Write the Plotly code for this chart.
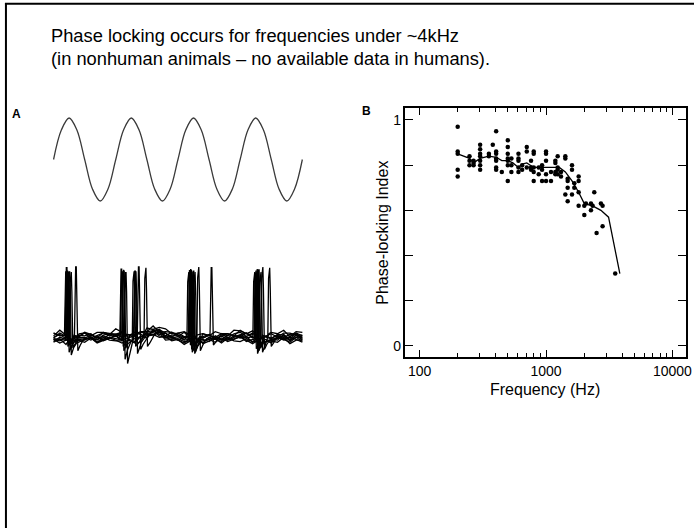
import plotly.graph_objects as go

W, H = 700, 528


def px(x):
    return x / W


def py(y):
    return 1 - y / H


FONT = "Liberation Sans, Arial, Helvetica, sans-serif"

# ---------------- text ----------------
title_line_1 = "Phase locking occurs for frequencies under ~4kHz"
title_line_2 = "(in nonhuman animals \u2013 no available data in humans)."
panel_labels = ["A", "B"]
x_axis_title = "Frequency (Hz)"
y_axis_title = "Phase-locking Index"

# ---------------- panel B data ----------------
freq_hz = [
    200, 200, 200, 200, 200,
    248, 248, 248,
    267, 267, 267,
    301, 301, 301, 301, 301, 301, 301,
    353, 353,
    379,
    403, 403, 403, 403, 403, 403, 403,
    447,
    498, 498, 498, 498, 498, 498, 498,
    532, 532, 532,
    605, 605, 605, 605, 605,
    647, 647,
    704, 704, 704,
    761, 761, 761,
    799, 799, 799, 799, 799,
    875, 875,
    930, 930, 930,
    1000, 1000, 1000, 1000, 1000,
    1095, 1095,
    1185, 1185, 1185, 1185,
    1236, 1236, 1236, 1236,
    1313, 1313,
    1421, 1421, 1421,
    1483, 1483, 1483, 1483,
    1605, 1605, 1605,
    1674, 1674,
    1811, 1811, 1811, 1811,
    2008, 2008,
    2069,
    2267, 2267,
    2336,
    2408,
    2512,
    2718,
    2802, 2802,
    3527,
]
pli = [
    0.97, 0.86, 0.85, 0.78, 0.75,
    0.84, 0.82, 0.80,
    0.82, 0.81, 0.80,
    0.89, 0.87, 0.85, 0.84, 0.82, 0.80, 0.78,
    0.85, 0.84,
    0.89,
    0.95, 0.86, 0.85, 0.83, 0.82, 0.79, 0.78,
    0.77,
    0.91, 0.88, 0.85, 0.83, 0.82, 0.80, 0.73,
    0.83, 0.80, 0.77,
    0.85, 0.83, 0.82, 0.79, 0.77,
    0.80, 0.78,
    0.88, 0.86, 0.79,
    0.82, 0.79, 0.78,
    0.86, 0.85, 0.79, 0.77, 0.73,
    0.79, 0.76,
    0.80, 0.78, 0.73,
    0.86, 0.85, 0.82, 0.76, 0.73,
    0.77, 0.73,
    0.82, 0.81, 0.77, 0.76,
    0.84, 0.79, 0.78, 0.76,
    0.77, 0.75,
    0.84, 0.83, 0.67,
    0.74, 0.73, 0.70, 0.64,
    0.80, 0.78, 0.67,
    0.72, 0.70,
    0.75, 0.73, 0.68, 0.62,
    0.62, 0.58,
    0.63,
    0.63, 0.60,
    0.62,
    0.68,
    0.50,
    0.63,
    0.62, 0.53,
    0.32,
]
mean_freq_hz = [200, 248, 267, 301, 353, 403, 447, 498, 546, 605, 647, 704,
                799, 930, 1095, 1274, 1421, 1605, 1811, 2008, 2336, 2718,
                3124, 3838]
mean_pli = [0.85, 0.83, 0.81, 0.83, 0.84, 0.835, 0.82, 0.82, 0.81, 0.79,
            0.805, 0.81, 0.79, 0.79, 0.79, 0.79, 0.77, 0.73, 0.68, 0.63,
            0.62, 0.60, 0.57, 0.32]

x_tick_vals = [100, 1000, 10000]
x_tick_text = ["100", "1000", "10000"]
x_minor_vals = [200, 300, 400, 500, 600, 700, 800, 900,
                2000, 3000, 4000, 5000, 6000, 7000, 8000, 9000]
y_tick_vals = [0, 0.2, 0.4, 0.6, 0.8, 1]
y_tick_text = ["0", "", "", "", "", "1"]

# ---------------- panel A data ----------------
# stimulus waveform, one cycle sampled every 1/8 cycle
stim_cycle = [0, 0.71, 1, 0.71, 0, -0.71, -1, -0.71]
n_cycles = 4
# spike times (in stimulus cycles) for each overlaid sweep
spike_times = [
    [0.20, 1.10, 2.17, 3.23],
    [0.22, 1.13, 2.19, 3.25],
    [0.23, 1.16, 2.22, 3.26],
    [0.255, 1.29, 2.25, 3.28],
    [0.28, 1.32, 2.27, 3.33],
    [0.36, 1.37, 2.33, 3.36],
    [0.21, 1.48, 2.54, 3.47],
    [1.12, 2.21, 3.30],
    [0.24, 1.31, 2.24],
    [1.09, 2.20, 3.27],
]
spike_heights = [0.93, 0.95, 0.92, 0.94, 0.93, 1.0, 0.99, 0.96, 0.94, 0.97]
dip_depths = [
    [0.12, 0.18, 0.10, 0.15],
    [0.20, 0.14, 0.16, 0.22],
    [0.10, 0.36, 0.12, 0.18],
    [0.24, 0.12, 0.20, 0.12],
    [0.14, 0.22, 0.14, 0.20],
    [0.18, 0.16, 0.18, 0.16],
    [0.10, 0.12, 0.10, 0.12],
    [0.30, 0.18, 0.14],
    [0.16, 0.10, 0.22],
    [0.12, 0.20, 0.18],
]
sweep_offsets = [0.04, -0.03, 0.02, -0.05, 0.06, -0.01, 0.03, -0.04,
                 0.01, -0.02]
baseline_drift = [0.0, 0.01, 0.0, -0.02, 0.0, 0.02, 0.01, 0.0, 0.01, 0.02,
                  0.03, 0.02, 0.0, 0.01, 0.03, 0.06, 0.10, 0.08, 0.04, 0.02,
                  0.01, 0.0, 0.0, -0.02, -0.01, 0.0, 0.01, 0.0, 0.01, 0.02,
                  0.03, 0.02, 0.0, -0.02, -0.01, 0.0, 0.01, 0.02, 0.0, 0.02,
                  0.0]
baseline_noise = [0.03, -0.02, 0.04, -0.01, -0.03, 0.02, 0.0, -0.04, 0.03,
                  0.01, -0.02, 0.04, -0.03, 0.0, 0.02, -0.01, 0.03, -0.04,
                  0.01, 0.02, -0.03, 0.04, -0.02, 0.0, 0.03, -0.01, -0.04,
                  0.02, 0.01, -0.03, 0.04, 0.0, -0.02, 0.03, -0.01, 0.02,
                  -0.04, 0.01, 0.03, -0.02, 0.0]

fig = go.Figure()

# ---- Panel A: stimulus sine ----
stim_y = stim_cycle * n_cycles + [stim_cycle[0]]
stim_t = [i / len(stim_cycle) for i in range(len(stim_y))]
fig.add_trace(go.Scatter(
    x=stim_t, y=stim_y, mode="lines", xaxis="x2", yaxis="y2",
    line=dict(color="#3a3a3a", width=1.3, shape="spline", smoothing=1.0),
    hoverinfo="skip", showlegend=False))

# ---- Panel A: spike sweeps ----
n_base = len(baseline_drift)
base_t = [i * n_cycles / (n_base - 1) for i in range(n_base)]
for k, times in enumerate(spike_times):
    off = sweep_offsets[k]
    pts = []
    for i, t in enumerate(base_t):
        if any(s - 0.03 <= t <= s + 0.14 for s in times):
            continue
        pts.append((t, baseline_drift[i] + off
                    + baseline_noise[(i + 5 * k) % n_base]))
    for j, s in enumerate(times):
        h = spike_heights[k]
        d = dip_depths[k][j]
        pts += [(s - 0.025, off), (s - 0.013, 0.85 * h), (s - 0.005, h),
                (s + 0.005, h), (s + 0.014, 0.7 * h), (s + 0.03, -d),
                (s + 0.07, -0.55 * d), (s + 0.13, off)]
    pts.sort()
    fig.add_trace(go.Scatter(
        x=[p[0] for p in pts], y=[p[1] for p in pts], mode="lines",
        xaxis="x3", yaxis="y3", line=dict(color="black", width=1.3),
        hoverinfo="skip", showlegend=False))

# ---- Panel B ----
fig.add_trace(go.Scatter(
    x=freq_hz, y=pli, mode="markers",
    marker=dict(color="black", size=4.5),
    showlegend=False))
fig.add_trace(go.Scatter(
    x=mean_freq_hz, y=mean_pli, mode="lines",
    line=dict(color="black", width=1.3),
    showlegend=False))

axis_common = dict(showline=True, linecolor="black", linewidth=1.5,
                   mirror="ticks", ticks="inside", tickcolor="black",
                   tickwidth=1.3, showgrid=False, zeroline=False,
                   tickfont=dict(family=FONT, size=14, color="black"))

fig.update_layout(
    width=W, height=H,
    margin=dict(l=0, r=0, t=0, b=0),
    paper_bgcolor="white", plot_bgcolor="rgba(0,0,0,0)",
    showlegend=False,
    xaxis=dict(type="log", range=[1.888, 4.108],
               domain=[px(409), px(692)], anchor="y",
               tickmode="array", tickvals=x_tick_vals, ticktext=x_tick_text,
               ticklen=7,
               minor=dict(tickmode="array", tickvals=x_minor_vals,
                          ticks="inside", ticklen=4, tickwidth=1.2,
                          tickcolor="black", showgrid=False),
               **axis_common),
    yaxis=dict(range=[-0.049, 1.053], domain=[py(357), py(108)],
               anchor="x", tickmode="array", tickvals=y_tick_vals,
               ticktext=y_tick_text, ticklen=8, **axis_common),
    xaxis2=dict(domain=[px(50.9), px(308.1)], range=[-0.05, 4.05],
                anchor="y2", visible=False),
    yaxis2=dict(domain=[py(205.15), py(113.85)], range=[-1.1, 1.1],
                anchor="x2", visible=False),
    xaxis3=dict(domain=[px(50.9), px(308.1)], range=[-0.05, 4.05],
                anchor="y3", visible=False),
    yaxis3=dict(domain=[py(373.5), py(259.9)], range=[-0.5, 1.1],
                anchor="x3", visible=False),
)

ann = []
ann.append(dict(text=title_line_1, x=px(49), y=py(36), xref="paper",
                yref="paper", xanchor="left", yanchor="middle",
                showarrow=False, font=dict(family=FONT, size=18.3,
                                           color="black")))
ann.append(dict(text=title_line_2, x=px(49), y=py(59), xref="paper",
                yref="paper", xanchor="left", yanchor="middle",
                showarrow=False, font=dict(family=FONT, size=18.3,
                                           color="black")))
ann.append(dict(text="<b>" + panel_labels[0] + "</b>", x=px(17), y=py(114),
                xref="paper", yref="paper", xanchor="center",
                yanchor="middle", showarrow=False,
                font=dict(family=FONT, size=12, color="black")))
ann.append(dict(text="<b>" + panel_labels[1] + "</b>", x=px(370), y=py(111),
                xref="paper", yref="paper", xanchor="center",
                yanchor="middle", showarrow=False,
                font=dict(family=FONT, size=12, color="black")))
ann.append(dict(text=x_axis_title, x=px(550), y=py(389), xref="paper",
                yref="paper", xanchor="center", yanchor="middle",
                showarrow=False, font=dict(family=FONT, size=16,
                                           color="black")))
ann.append(dict(text=y_axis_title, x=px(385), y=py(233), xref="paper",
                yref="paper", xanchor="center", yanchor="middle",
                textangle=-90, showarrow=False,
                font=dict(family=FONT, size=16, color="black")))
fig.update_layout(annotations=ann)

# slide frame
fig.update_layout(shapes=[
    dict(type="line", xref="paper", yref="paper", x0=px(5), x1=1,
         y0=py(3.7), y1=py(3.7), line=dict(color="black", width=2)),
    dict(type="line", xref="paper", yref="paper", x0=px(6), x1=px(6),
         y0=py(3), y1=0, line=dict(color="black", width=2)),
])

fig.write_html("out.html",
               config={"displayModeBar": False},
               post_script="document.body.style.margin='0';"
                           "document.body.style.overflow='hidden';")
